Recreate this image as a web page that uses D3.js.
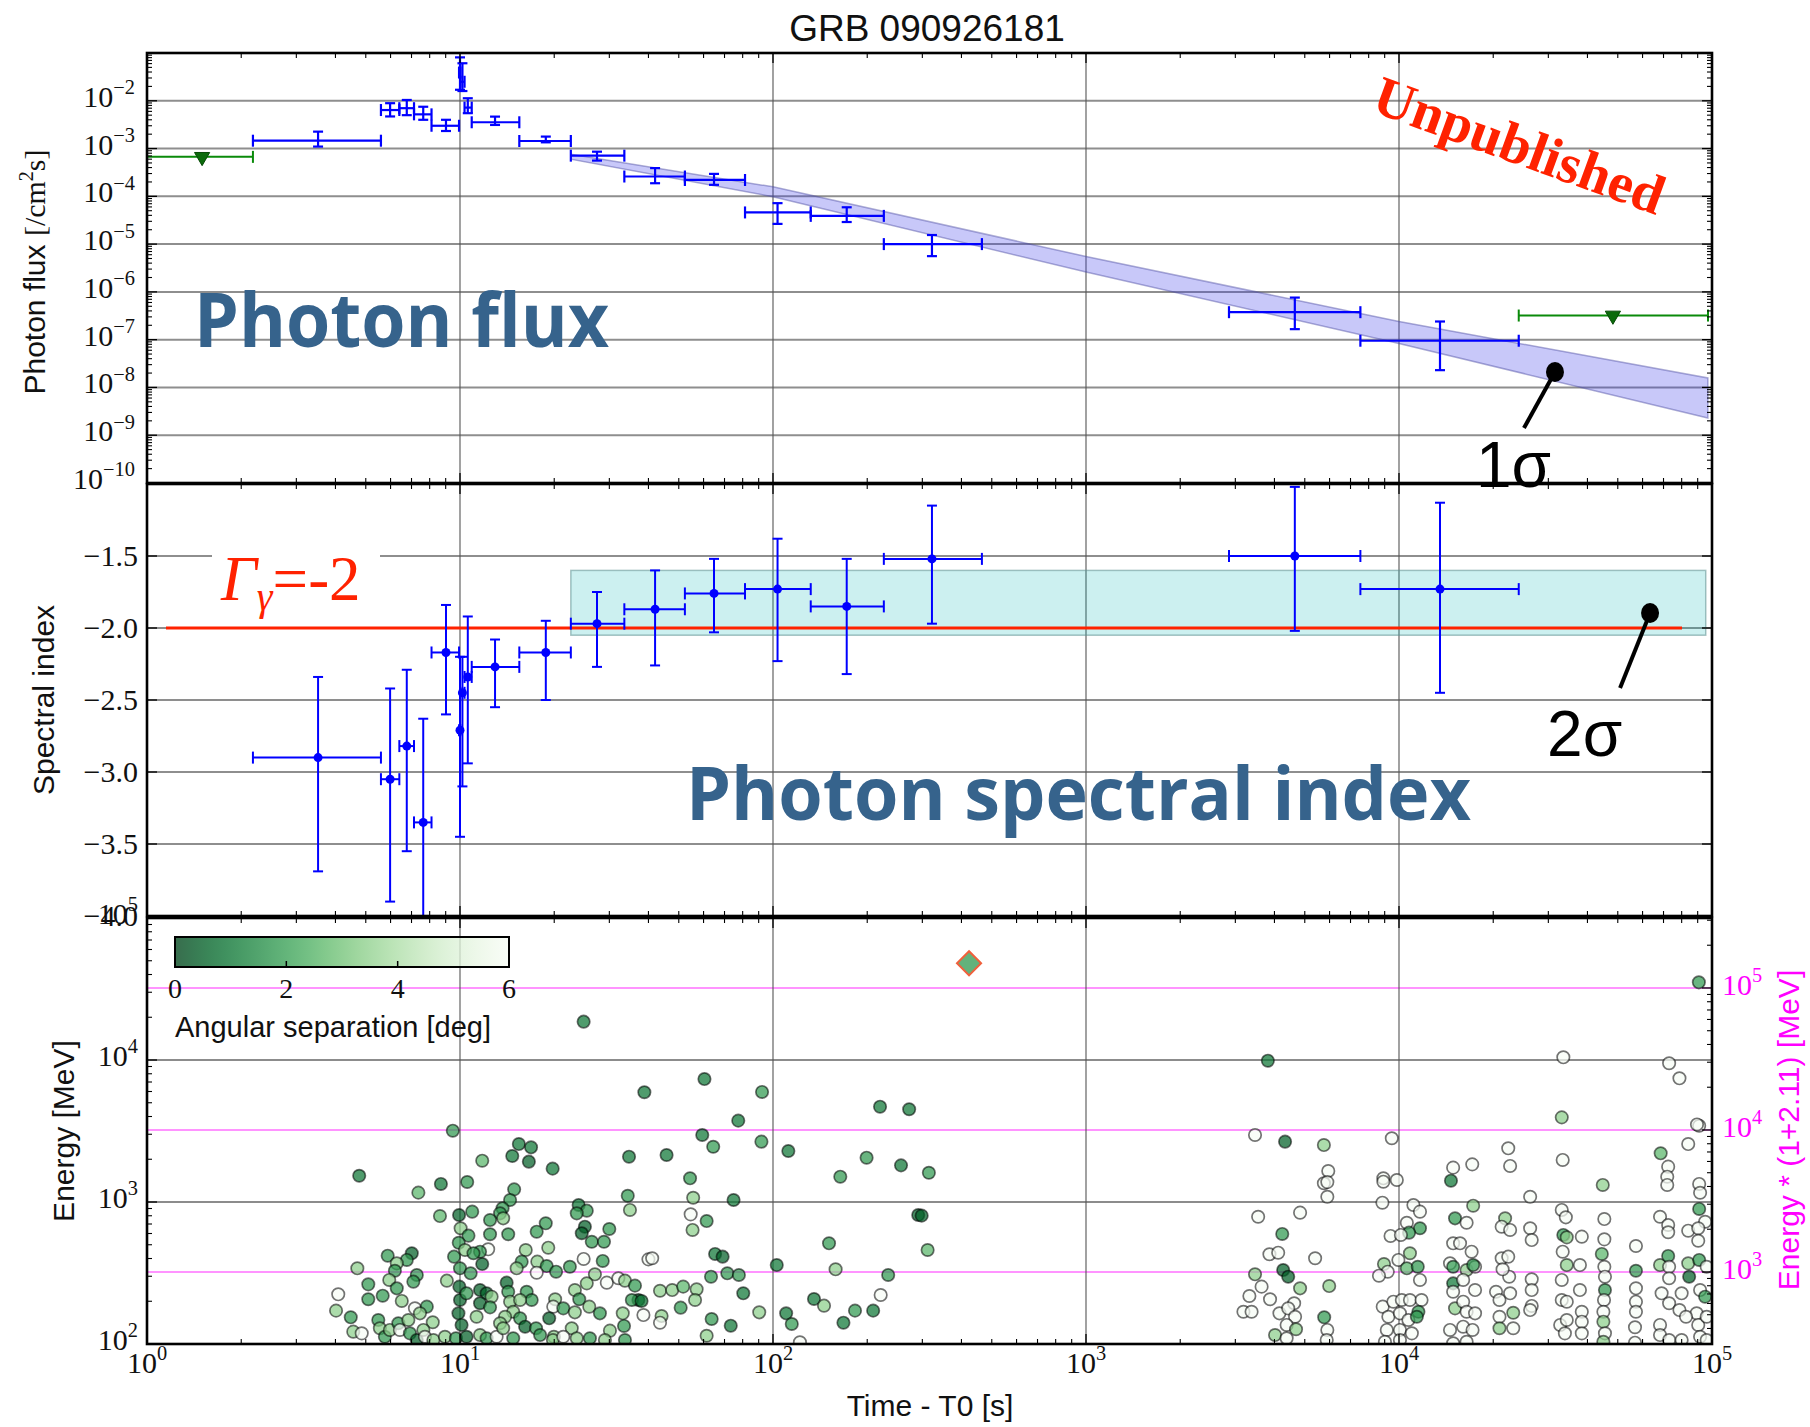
<!DOCTYPE html>
<html>
<head>
<meta charset="utf-8">
<title>GRB 090926181</title>
<script src="https://cdn.jsdelivr.net/npm/d3@7"></script>
<style>
  html, body { margin: 0; padding: 0; background: #fff; }
  svg { display: block; }
</style>
</head>
<body>
<svg id="chart" width="1810" height="1427"></svg>
<script>
// ---------------- LAT light-curve data ----------------
// time bins [s since T0]
const binStart = [2.18, 5.59, 6.40, 7.13, 8.11, 9.93, 10.03, 10.34, 10.90, 15.47, 22.6, 33.5, 52.3, 81.4, 132, 226, 2863, 7527];
const binEnd   = [5.59, 6.40, 7.13, 8.11, 9.93, 10.03, 10.34, 10.90, 15.47, 22.6, 33.5, 52.3, 81.4, 132, 226, 465, 7527, 24130];
const binMid   = [3.52, 5.98, 6.76, 7.63, 9.02, 10.0, 10.18, 10.59, 12.94, 18.8, 27.4, 42.0, 64.8, 103.4, 172, 322, 4647, 13520];

// photon flux [/cm^2 s] with 1-sigma range
const fluxValue = [1.46e-3, 6.4e-3, 7.0e-3, 5.2e-3, 3.0e-3, 3.9e-2, 2.5e-2, 7.2e-3, 3.55e-3, 1.44e-3, 7.1e-4, 2.6e-4, 2.2e-4, 4.6e-5, 3.9e-5, 1.0e-5, 3.76e-7, 9.5e-8];
const fluxLow   = [1.10e-3, 4.7e-3, 5.0e-3, 4.0e-3, 2.33e-3, 1.7e-2, 1.6e-2, 5.5e-3, 3.12e-3, 1.35e-3, 5.6e-4, 1.88e-4, 1.74e-4, 2.65e-5, 2.9e-5, 5.6e-6, 1.66e-7, 2.3e-8];
const fluxHigh  = [2.26e-3, 8.9e-3, 1.04e-2, 7.5e-3, 4.0e-3, 8.1e-2, 6.1e-2, 1.13e-2, 4.66e-3, 1.78e-3, 8.6e-4, 3.9e-4, 2.95e-4, 7.2e-5, 5.9e-5, 1.55e-5, 7.6e-7, 2.4e-7];

// photon spectral index with 1-sigma range
const indexValue = [-2.90, -3.05, -2.82, -3.35, -2.17, -2.71, -2.45, -2.34, -2.27, -2.17, -1.97, -1.87, -1.76, -1.73, -1.85, -1.52, -1.50, -1.73];
const indexLow   = [-3.69, -3.90, -3.55, -4.15, -2.60, -3.45, -3.10, -2.94, -2.55, -2.50, -2.27, -2.26, -2.03, -2.23, -2.32, -1.97, -2.02, -2.45];
const indexHigh  = [-2.34, -2.42, -2.29, -2.63, -1.84, -2.20, -2.20, -1.92, -2.08, -1.95, -1.75, -1.60, -1.52, -1.38, -1.52, -1.15, -1.02, -1.13];

// flux upper limits
const ulStart = [1.0, 24130];
const ulEnd   = [2.18, 97100];
const ulMid   = [1.5, 48240];
const ulFlux  = [6.7e-4, 3.2e-7];

// power-law decay fit, 1-sigma envelope
const decayTime  = [22.6, 100, 1000, 1e4, 97000];
const decayUpper = [7.6e-4, 1.58e-4, 5.5e-6, 2.4e-7, 1.58e-8];
const decayLower = [6.0e-4, 9.8e-5, 2.6e-6, 8.3e-8, 2.3e-9];

// constant spectral index, 2-sigma band, and reference index
const indexBandTime  = [22.6, 95500];
const indexBandRange = [-2.05, -1.60];
const refIndex = -2;
const refIndexTime = [1.15, 80200];

// individual photons: log10(time [s]), log10(energy [MeV]), angular separation [deg]
const photonLogT = [
  1.589,0.977,0.678,1.071,1.188,1.227,1.167,1.220,1.296,1.540,
  1.536,1.543,0.867,0.939,1.023,1.173,1.160,1.136,1.128,1.138,
  1.379,1.405,1.373,0.936,0.997,1.039,1.096,1.002,1.027,1.096,
  1.154,1.274,1.245,1.399,1.389,1.421,1.477,1.460,0.996,1.016,
  1.090,1.064,1.043,1.210,1.282,1.395,1.456,0.769,0.846,0.830,
  0.798,0.792,0.672,0.862,0.851,0.981,1.000,1.071,1.034,1.197,
  1.181,1.247,1.277,1.307,1.351,1.431,1.245,0.958,0.707,0.774,
  0.798,0.707,0.753,0.611,0.604,0.651,0.814,0.856,0.894,0.872,
  0.913,0.998,1.000,0.995,1.021,1.005,1.064,1.085,1.101,1.064,
  1.096,1.053,1.149,1.154,1.160,1.213,1.229,1.192,1.170,1.144,
  1.128,1.192,1.208,1.243,1.304,1.298,1.330,1.285,1.300,1.367,
  1.381,1.405,1.413,1.367,1.357,1.447,1.469,1.506,1.527,1.559,
  1.570,1.549,1.520,1.586,1.524,1.479,1.602,0.659,0.686,0.739,
  0.744,0.760,0.776,0.803,0.808,0.835,0.840,0.862,0.883,0.888,
  0.915,0.952,0.987,1.021,1.064,1.085,1.117,1.138,1.170,1.256,
  1.297,1.330,1.373,1.415,1.463,1.527,1.395,1.781,1.965,1.889,
  1.774,1.809,1.963,1.660,2.049,1.735,1.745,1.874,1.737,1.788,
  1.743,1.614,1.815,1.839,1.802,1.854,1.891,2.012,1.639,1.678,
  1.713,1.756,1.751,1.580,1.705,1.905,1.644,1.639,1.804,1.865,
  1.788,1.956,2.042,2.060,2.086,2.342,2.435,2.299,2.409,2.498,
  2.215,2.464,2.475,2.494,2.179,2.200,2.368,2.344,2.131,2.163,
  2.262,2.320,2.225,3.581,3.540,3.636,3.760,3.977,3.774,3.760,
  3.771,3.771,3.950,3.950,3.993,3.947,3.550,3.684,3.627,3.586,
  3.614,3.732,3.540,3.630,3.646,3.684,3.777,3.561,3.522,3.588,
  3.503,3.529,3.618,3.665,3.646,3.668,3.641,3.671,3.604,3.641,
  3.761,3.771,3.769,4.046,4.067,4.025,4.067,4.032,3.973,4.006,
  3.952,3.964,3.936,3.998,4.035,4.025,4.060,4.067,3.948,3.982,
  4.009,4.035,4.072,3.966,4.003,4.030,4.062,4.057,3.961,4.003,
  4.041,3.955,4.003,4.173,4.234,4.166,4.179,4.216,4.237,4.173,
  4.195,4.232,4.163,4.173,4.216,4.243,4.173,4.205,4.243,4.173,
  4.179,4.205,4.216,4.243,4.163,4.205,4.235,4.173,4.216,4.525,
  4.863,4.896,4.520,4.959,4.952,4.924,4.836,4.349,4.355,4.523,
  4.860,4.857,4.857,4.651,4.959,4.962,4.419,4.520,4.533,4.656,
  4.834,4.860,4.860,4.959,4.978,4.924,4.956,4.956,4.339,4.328,
  4.355,4.419,4.424,4.525,4.536,4.584,4.656,4.757,4.237,4.328,
  4.349,4.352,4.331,4.523,4.536,4.520,4.578,4.648,4.656,4.658,
  4.757,4.834,4.860,4.863,4.863,4.924,4.959,4.927,4.983,4.310,
  4.321,4.355,4.424,4.424,4.424,4.419,4.520,4.536,4.578,4.658,
  4.655,4.653,4.757,4.757,4.757,4.839,4.863,4.903,4.896,4.962,
  4.978,4.321,4.365,4.321,4.365,4.515,4.536,4.530,4.584,4.584,
  4.584,4.653,4.658,4.653,4.754,4.754,4.834,4.834,4.863,4.903,
  4.951,4.956,4.983,4.962,4.983,4.917,4.958
];
const photonLogE = [
  3.773,3.502,3.185,3.291,3.408,3.385,3.324,3.284,3.235,3.319,
  3.044,2.944,3.066,3.127,3.141,3.089,3.014,2.956,2.920,2.885,
  2.979,2.939,2.920,2.901,2.908,2.932,2.873,2.815,2.763,2.773,
  2.773,2.850,2.791,2.826,2.780,2.720,2.810,2.720,2.713,2.662,
  2.667,2.650,2.639,2.662,2.678,2.599,2.585,2.622,2.639,2.592,
  2.568,2.516,2.533,2.486,2.439,2.615,2.533,2.563,2.498,2.580,
  2.533,2.580,2.549,2.509,2.544,2.491,2.502,2.446,2.420,2.451,
  2.392,2.315,2.340,2.350,2.235,2.188,2.303,2.251,2.263,2.216,
  2.153,2.404,2.310,2.216,2.357,2.134,2.380,2.357,2.333,2.287,
  2.258,2.192,2.432,2.368,2.298,2.368,2.310,2.310,2.227,2.192,
  2.146,2.181,2.122,2.111,2.315,2.263,2.251,2.181,2.051,2.380,
  2.315,2.427,2.263,2.223,2.111,2.216,2.432,2.463,2.446,2.411,
  2.310,2.310,2.216,2.204,2.127,2.094,2.596,2.087,2.075,2.169,
  2.111,2.051,2.099,2.146,2.099,2.169,2.075,2.028,2.099,2.051,
  2.028,2.051,2.040,2.051,2.063,2.040,2.051,2.111,2.040,2.063,
  2.028,2.051,2.040,2.040,2.028,2.028,4.270,3.866,3.775,3.573,
  3.472,3.389,3.425,3.331,3.359,3.167,3.030,3.014,2.913,2.866,
  2.803,2.604,2.634,2.615,2.474,2.498,2.486,2.556,2.375,2.380,
  2.404,2.385,2.310,2.303,2.256,2.357,2.197,2.150,2.176,2.129,
  2.058,2.223,2.216,2.141,2.012,3.671,3.653,3.312,3.258,3.206,
  3.178,2.908,2.904,2.662,2.709,2.526,2.486,2.345,2.317,2.270,
  2.235,2.235,2.150,3.995,3.472,3.425,3.401,3.449,3.218,3.132,
  3.140,3.037,3.167,3.143,3.155,2.995,2.896,2.925,2.775,2.632,
  2.643,2.604,2.491,2.521,2.474,2.392,2.408,2.404,2.338,2.315,
  2.227,2.227,2.216,2.287,2.251,2.192,2.134,2.104,2.063,2.040,
  2.188,2.099,2.028,2.979,2.932,2.854,2.815,2.784,2.761,2.768,
  2.563,2.509,2.481,2.592,2.639,2.533,2.544,2.451,2.263,2.298,
  2.310,2.310,2.310,2.192,2.216,2.169,2.227,2.192,2.099,2.099,
  2.075,2.016,2.028,3.242,3.265,3.150,2.885,2.854,2.974,2.709,
  2.709,2.650,2.568,2.544,2.521,2.544,2.427,2.451,2.380,2.368,
  2.251,2.298,2.227,2.216,2.099,2.122,2.099,2.005,2.016,4.019,
  3.977,3.871,3.596,3.537,3.546,3.408,3.343,3.378,3.254,3.296,
  3.249,3.178,3.120,3.120,3.127,3.065,3.037,2.944,2.892,2.880,
  2.896,2.838,2.787,2.951,2.861,2.798,2.815,2.727,2.885,2.826,
  2.803,2.815,2.732,2.768,2.751,2.756,2.737,2.690,2.556,2.604,
  2.615,2.474,2.526,2.650,2.556,2.451,2.556,2.634,2.544,2.474,
  2.516,2.556,2.620,2.544,2.463,2.568,2.592,2.474,2.544,2.368,
  2.310,2.357,2.456,2.380,2.268,2.239,2.310,2.298,2.380,2.380,
  2.310,2.227,2.392,2.298,2.227,2.357,2.287,2.357,2.239,2.380,
  2.333,2.192,2.220,2.111,2.111,2.134,2.169,2.075,2.227,2.157,
  2.075,2.157,2.075,2.016,2.118,2.009,2.134,2.063,2.028,2.028,
  2.216,2.134,2.192,2.051,2.028,2.192,4.547
];
const photonSep = [
  1.0,1.8,1.0,2.6,1.0,1.0,1.0,0.5,1.0,1.0,
  1.8,3.4,2.6,1.0,1.8,1.8,1.8,1.8,1.8,3.4,
  1.0,1.8,1.8,2.6,0.5,1.8,1.8,3.4,1.8,1.8,
  1.8,1.8,1.8,0.5,0.5,1.8,1.8,1.8,1.8,3.4,
  6,1.8,1.8,3.4,3.4,6,1.8,1.8,0.5,1.8,
  3.4,1.8,3.4,1.8,1.8,1.8,1.8,0.5,1.8,1.8,
  3.4,3.4,1.8,1.8,1.8,3.4,6,3.4,1.8,3.4,
  1.8,1.8,1.8,6,3.4,1.8,3.4,6,1.8,3.4,
  3.4,0.5,0.5,0.5,1.8,0.5,0.5,0.5,3.4,0.5,
  1.8,3.4,0.5,1.8,3.4,1.8,1.8,3.4,3.4,3.4,
  3.4,1.8,0.5,1.8,3.4,6,1.8,0.5,3.4,3.4,
  1.8,3.4,3.4,3.4,3.4,1.8,6,6,3.4,1.8,
  0.5,1.8,3.4,6,1.8,3.4,6,3.4,6,1.8,
  3.4,1.8,3.4,1.8,6,3.4,1.8,0.5,3.4,6,
  3.4,3.4,1.8,0.5,3.4,1.8,6,3.4,1.8,1.8,
  3.4,6,3.4,1.8,3.4,1.8,1.0,1.0,1.8,1.0,
  1.0,1.8,1.8,1.0,1.0,1.8,3.4,1.0,6,1.8,
  3.4,6,1.0,0.5,1.8,1.8,1.8,1.0,3.4,3.4,
  2.6,3.4,3.4,1.0,1.8,1.0,3.4,6,1.8,1.0,
  3.4,3.4,1.0,1.8,6,1.0,1.0,1.8,1.0,1.8,
  1.8,0.5,0.5,2.6,1.8,3.4,1.8,6,1.0,3.4,
  1.8,1.0,1.0,1.0,6,0.5,3.4,6,6,6,
  6,6,6,6,6,6,6,6,1.8,6,
  6,6,3.4,0.5,0.5,3.4,3.4,6,6,6,
  6,6,6,6,6,6,6,3.4,3.4,6,
  1.8,6,6,6,6,6,1.8,1.8,6,6,
  3.4,6,6,6,3.4,2.6,1.8,6,6,6,
  6,6,6,6,6,6,1.8,1.8,6,6,
  6,6,6,6,6,1.0,1.8,6,3.4,6,
  6,6,6,1.8,3.4,6,1.0,6,6,6,
  3.4,6,6,6,6,6,6,6,6,6,
  6,6,3.4,6,6,6,2.6,6,6,6,
  6,6,6,3.4,6,6,6,6,6,6,
  6,6,6,1.8,6,6,6,6,3.4,6,
  6,6,6,1.8,3.4,6,6,6,1.8,6,
  6,6,6,6,3.4,6,6,2.6,6,6,
  1.8,3.4,1.8,6,6,3.4,1.8,0.5,6,6,
  6,6,6,6,6,6,6,6,6,1.8,
  6,6,6,6,6,6,6,6,6,6,
  1.8,6,3.4,3.4,6,6,6,6,6,6,
  6,3.4,6,3.4,6,6,6,6,6,6,
  6,6,6,6,6,6,1.8
];

// highest-energy photon (diamond)
const hePhotonTime = 423;
const hePhotonEnergy = 4.8e4;
const hePhotonSep = 1.8;

// redshift factor for the right-hand energy axis
const redshift = 2.11;

// annotation anchors (data units)
const sigma1Anchor = { t: 31500, flux: 2.1e-8 };
const sigma2Anchor = { t: 63400, index: -1.896 };

// tick label exponents
const fluxTickExp = [-10, -9, -8, -7, -6, -5, -4, -3, -2];
const indexTicks = [-4.0, -3.5, -3.0, -2.5, -2.0, -1.5];
const timeTickExp = [0, 1, 2, 3, 4, 5];
const energyTickExp = [2, 3, 4, 5];
const energyZTickExp = [3, 4, 5];
const sepTicks = [0, 2, 4, 6];

// ---------------- layout ----------------
const SANS = "'Liberation Sans', Arial, Helvetica, sans-serif";
const SERIF = "'Liberation Serif', 'Times New Roman', serif";
const BOLD_SANS = "'Open Sans', 'Noto Sans', sans-serif";
const RED = "#ff2200";
const BLUE = "#0000ff";
const MAGENTA = "#ff00ff";
const TEXTBLUE = "#36638c";

const X0 = 147, X1 = 1712;
const P_FLUX = [53, 483], P_INDEX = [484, 916], P_ENERGY = [918, 1344];

const svg = d3.select("#chart");

const x = d3.scaleLog().domain([1, 1e5]).range([X0, X1]);
const yFlux = d3.scaleLog().domain([1e-10, 1e-1]).range([P_FLUX[1], P_FLUX[0]]);
const yIndex = d3.scaleLinear().domain([-4, -1]).range([P_INDEX[1], P_INDEX[0]]);
const yEnergy = d3.scaleLog().domain([1e2, 1e5]).range([P_ENERGY[1], P_ENERGY[0]]);
const yEnergyZ = d3.scaleLog().domain([1e2 * (1 + redshift), 1e5 * (1 + redshift)]).range([P_ENERGY[1], P_ENERGY[0]]);
const sepColor = d3.scaleSequential(t => d3.interpolateGreens(1 - t)).domain([0, 6]).clamp(true);

// clip paths for the three panels
const defs = svg.append("defs");
[["clipFlux", P_FLUX], ["clipIndex", P_INDEX], ["clipEnergy", P_ENERGY]].forEach(([id, p]) => {
  defs.append("clipPath").attr("id", id)
    .append("rect").attr("x", X0).attr("y", p[0]).attr("width", X1 - X0).attr("height", p[1] - p[0]);
});

function logTicks(lo, hi) {
  const major = [], minor = [];
  for (let e = Math.floor(Math.log10(lo)) - 1; e <= Math.ceil(Math.log10(hi)); e++) {
    const b = Math.pow(10, e);
    if (b >= lo * 0.999 && b <= hi * 1.001) major.push(b);
    for (let k = 2; k < 10; k++) {
      const v = k * b;
      if (v > lo * 1.001 && v < hi * 0.999) minor.push(v);
    }
  }
  return { major, minor };
}

function seg(g, x1, y1, x2, y2, stroke, width) {
  return g.append("line").attr("x1", x1).attr("y1", y1).attr("x2", x2).attr("y2", y2)
    .attr("stroke", stroke).attr("stroke-width", width);
}

function powLabel(g, px, py, exp, anchor, fill, size) {
  const fs = size || 30;
  const t = g.append("text").attr("x", px).attr("y", py).attr("text-anchor", anchor)
    .attr("font-family", SERIF).attr("font-size", fs).attr("fill", fill || "#111");
  t.append("tspan").text("10");
  t.append("tspan").attr("dy", -fs * 0.42).attr("font-size", fs * 0.68)
    .text(exp < 0 ? "\u2212" + (-exp) : String(exp));
  return t;
}

const xt = logTicks(1, 1e5);

// ---------------- gridlines ----------------
const grid = svg.append("g");
function verticalGrid(p) {
  [10, 100, 1000, 1e4].forEach(v => seg(grid, x(v), p[0], x(v), p[1], "#555", 1.1));
}
// flux panel
d3.range(-9, -1).forEach(e => seg(grid, X0, yFlux(Math.pow(10, e)), X1, yFlux(Math.pow(10, e)), "#8e8e8e", 2));
verticalGrid(P_FLUX);
// index panel
[-3.5, -3.0, -2.5, -2.0, -1.5].forEach(v => seg(grid, X0, yIndex(v), X1, yIndex(v), "#8e8e8e", 2));
verticalGrid(P_INDEX);
// energy panel
[1e3, 1e4].forEach(v => seg(grid, X0, yEnergy(v), X1, yEnergy(v), "#666", 1.6));
[1e3, 1e4, 1e5].forEach(v => seg(grid, X0, yEnergyZ(v), X1, yEnergyZ(v), "#ff70ff", 1.6));
verticalGrid(P_ENERGY);

// ---------------- flux panel ----------------
const gF = svg.append("g").attr("clip-path", "url(#clipFlux)");

// decay fit envelope
const decayArea = d3.area()
  .x((d, i) => x(decayTime[i]))
  .y0((d, i) => yFlux(decayLower[i]))
  .y1((d, i) => yFlux(decayUpper[i]));
gF.append("path").datum(decayTime).attr("d", decayArea)
  .attr("fill", "#3a3ae8").attr("fill-opacity", 0.28)
  .attr("stroke", "#4a4aa0").attr("stroke-opacity", 0.45).attr("stroke-width", 1.5);

function errorCross(g, t0, t1, tm, yv, ylo, yhi, ys, color, w) {
  const xa = x(t0), xb = x(t1), xm = x(tm), yy = ys(yv);
  seg(g, xa, yy, xb, yy, color, w);
  seg(g, xa, yy - 6, xa, yy + 6, color, w);
  seg(g, xb, yy - 6, xb, yy + 6, color, w);
  seg(g, xm, ys(ylo), xm, ys(yhi), color, w);
  seg(g, xm - 5, ys(ylo), xm + 5, ys(ylo), color, w);
  seg(g, xm - 5, ys(yhi), xm + 5, ys(yhi), color, w);
}

binMid.forEach((tm, i) => {
  errorCross(gF, binStart[i], binEnd[i], tm, fluxValue[i], fluxLow[i], fluxHigh[i], yFlux, BLUE, 2.2);
});

// upper limits
ulMid.forEach((tm, i) => {
  const yy = yFlux(ulFlux[i]);
  seg(gF, x(ulStart[i]), yy, x(ulEnd[i]), yy, "#0a8a0a", 2);
  seg(gF, x(ulStart[i]), yy - 6, x(ulStart[i]), yy + 6, "#0a8a0a", 2);
  seg(gF, x(ulEnd[i]), yy - 6, x(ulEnd[i]), yy + 6, "#0a8a0a", 2);
  gF.append("path").attr("d", d3.symbol(d3.symbolTriangle, 100)())
    .attr("transform", `translate(${x(tm)},${yy}) rotate(180)`)
    .attr("fill", "#0b6b0b").attr("stroke", "#064a06").attr("stroke-width", 1);
});

// ---------------- index panel ----------------
const gI = svg.append("g").attr("clip-path", "url(#clipIndex)");
gI.append("rect")
  .attr("x", x(indexBandTime[0])).attr("width", x(indexBandTime[1]) - x(indexBandTime[0]))
  .attr("y", yIndex(indexBandRange[1])).attr("height", yIndex(indexBandRange[0]) - yIndex(indexBandRange[1]))
  .attr("fill", "#00b4b4").attr("fill-opacity", 0.2)
  .attr("stroke", "#5f8f8f").attr("stroke-opacity", 0.55).attr("stroke-width", 1.5);
seg(gI, x(refIndexTime[0]), yIndex(refIndex), x(refIndexTime[1]), yIndex(refIndex), RED, 3);

binMid.forEach((tm, i) => {
  errorCross(gI, binStart[i], binEnd[i], tm, indexValue[i], indexLow[i], indexHigh[i], yIndex, BLUE, 2);
  gI.append("circle").attr("cx", x(tm)).attr("cy", yIndex(indexValue[i])).attr("r", 4.5).attr("fill", BLUE);
});

// ---------------- energy panel ----------------
const gE = svg.append("g").attr("clip-path", "url(#clipEnergy)");
photonLogT.forEach((lt, i) => {
  gE.append("circle")
    .attr("cx", x(Math.pow(10, lt)))
    .attr("cy", yEnergy(Math.pow(10, photonLogE[i])))
    .attr("r", 6.2)
    .attr("fill", sepColor(photonSep[i])).attr("fill-opacity", 0.72)
    .attr("stroke", "#000").attr("stroke-opacity", 0.55).attr("stroke-width", 1.7);
});
gE.append("path").attr("d", d3.symbol(d3.symbolSquare, 290)())
  .attr("transform", `translate(${x(hePhotonTime)},${yEnergy(hePhotonEnergy)}) rotate(45)`)
  .attr("fill", sepColor(hePhotonSep)).attr("fill-opacity", 0.75)
  .attr("stroke", "#f0603c").attr("stroke-width", 2);

// colour bar
const cbX0 = 175, cbX1 = 509, cbY0 = 937, cbY1 = 967;
const sepScale = d3.scaleLinear().domain([0, 6]).range([cbX0, cbX1]);
const grad = defs.append("linearGradient").attr("id", "sepGrad").attr("x1", "0%").attr("x2", "100%");
d3.range(0, 1.0001, 0.05).forEach(f => {
  grad.append("stop").attr("offset", (f * 100) + "%").attr("stop-color", sepColor(f * 6));
});
svg.append("rect").attr("x", cbX0).attr("y", cbY0).attr("width", cbX1 - cbX0).attr("height", cbY1 - cbY0)
  .attr("fill", "url(#sepGrad)").attr("fill-opacity", 0.78);
svg.append("rect").attr("x", cbX0).attr("y", cbY0).attr("width", cbX1 - cbX0).attr("height", cbY1 - cbY0)
  .attr("fill", "none").attr("stroke", "#000").attr("stroke-width", 2);
sepTicks.forEach(v => {
  seg(svg, sepScale(v), cbY1, sepScale(v), cbY1 - 6, "#000", 1.5);
  svg.append("text").attr("x", sepScale(v)).attr("y", 998).attr("text-anchor", "middle")
    .attr("font-family", SERIF).attr("font-size", 28).attr("fill", "#111").text(v);
});
svg.append("text").attr("x", cbX0).attr("y", 1037).attr("font-family", SANS).attr("font-size", 29)
  .attr("fill", "#111").text("Angular separation [deg]");

// ---------------- frames and ticks ----------------
const axes = svg.append("g");
function frame(p) {
  axes.append("rect").attr("x", X0).attr("y", p[0]).attr("width", X1 - X0).attr("height", p[1] - p[0])
    .attr("fill", "none").attr("stroke", "#000").attr("stroke-width", 2.6);
  xt.major.forEach(v => { seg(axes, x(v), p[0], x(v), p[0] + 10, "#000", 1.3); seg(axes, x(v), p[1], x(v), p[1] - 10, "#000", 1.3); });
  xt.minor.forEach(v => { seg(axes, x(v), p[0], x(v), p[0] + 5, "#000", 1.1); seg(axes, x(v), p[1], x(v), p[1] - 5, "#000", 1.1); });
}
function yLogTicks(ys, lo, hi, left, right) {
  const t = logTicks(lo, hi);
  t.major.forEach(v => {
    if (left) seg(axes, X0, ys(v), X0 + 10, ys(v), "#000", 1.3);
    if (right) seg(axes, X1, ys(v), X1 - 10, ys(v), "#000", 1.3);
  });
  t.minor.forEach(v => {
    if (left) seg(axes, X0, ys(v), X0 + 5, ys(v), "#000", 1.1);
    if (right) seg(axes, X1, ys(v), X1 - 5, ys(v), "#000", 1.1);
  });
}
frame(P_FLUX); frame(P_INDEX); frame(P_ENERGY);
yLogTicks(yFlux, 1e-10, 1e-1, true, true);
d3.range(-4, -0.99, 0.5).forEach(v => {
  seg(axes, X0, yIndex(v), X0 + 10, yIndex(v), "#000", 1.3);
  seg(axes, X1, yIndex(v), X1 - 10, yIndex(v), "#000", 1.3);
});
yLogTicks(yEnergy, 1e2, 1e5, true, false);
yLogTicks(yEnergyZ, 1e2 * (1 + redshift), 1e5 * (1 + redshift), false, true);

// ---------------- tick labels ----------------
const labels = svg.append("g");
fluxTickExp.forEach(e => powLabel(labels, 135, yFlux(Math.pow(10, e)) + 6, e, "end"));
indexTicks.forEach(v => {
  labels.append("text").attr("x", 138).attr("y", yIndex(v) + 10).attr("text-anchor", "end")
    .attr("font-family", SERIF).attr("font-size", 30).attr("fill", "#111")
    .text("\u2212" + Math.abs(v).toFixed(1));
});
energyTickExp.forEach(e => powLabel(labels, 138, yEnergy(Math.pow(10, e)) + 6, e, "end"));
energyZTickExp.forEach(e => powLabel(labels, 1722, yEnergyZ(Math.pow(10, e)) + 7, e, "start", MAGENTA));
timeTickExp.forEach(e => powLabel(labels, x(Math.pow(10, e)), 1373, e, "middle"));

// ---------------- axis titles ----------------
svg.append("text").attr("x", 927).attr("y", 41).attr("text-anchor", "middle")
  .attr("font-family", SANS).attr("font-size", 37).attr("fill", "#111").text("GRB 090926181");

const yl = svg.append("text").attr("transform", "translate(45,272) rotate(-90)")
  .attr("text-anchor", "middle").attr("font-size", 30).attr("fill", "#111");
yl.append("tspan").attr("font-family", SANS).text("Photon flux ");
yl.append("tspan").attr("font-family", SERIF).text("[/cm");
yl.append("tspan").attr("font-family", SERIF).attr("font-size", 20).attr("dy", -12).text("2");
yl.append("tspan").attr("font-family", SERIF).attr("dy", 12).text("s]");

svg.append("text").attr("transform", "translate(54,700) rotate(-90)").attr("text-anchor", "middle")
  .attr("font-family", SANS).attr("font-size", 30).attr("fill", "#111").text("Spectral index");
svg.append("text").attr("transform", "translate(74,1131) rotate(-90)").attr("text-anchor", "middle")
  .attr("font-family", SANS).attr("font-size", 30).attr("fill", "#111").text("Energy [MeV]");
svg.append("text").attr("transform", "translate(1799,1130) rotate(-90)").attr("text-anchor", "middle")
  .attr("font-family", SANS).attr("font-size", 30).attr("fill", MAGENTA).text("Energy * (1+2.11) [MeV]");
svg.append("text").attr("x", 930).attr("y", 1416).attr("text-anchor", "middle")
  .attr("font-family", SANS).attr("font-size", 30).attr("fill", "#111").text("Time - T0 [s]");

// ---------------- annotations ----------------
svg.append("text").attr("x", 194).attr("y", 347).attr("font-family", BOLD_SANS).attr("font-weight", 700)
  .attr("font-size", 75).attr("fill", TEXTBLUE)
  .attr("textLength", 415).attr("lengthAdjust", "spacingAndGlyphs").text("Photon flux");
svg.append("text").attr("x", 686).attr("y", 820).attr("font-family", BOLD_SANS).attr("font-weight", 700)
  .attr("font-size", 74).attr("fill", TEXTBLUE)
  .attr("textLength", 785).attr("lengthAdjust", "spacingAndGlyphs").text("Photon spectral index");

svg.append("text").attr("transform", "translate(1513,163) rotate(20)").attr("text-anchor", "middle")
  .attr("font-family", SERIF).attr("font-weight", 700).attr("font-size", 56).attr("fill", RED)
  .text("Unpublished");

// reference-index label with white backing
svg.append("rect").attr("x", 212).attr("y", 546).attr("width", 168).attr("height", 72).attr("fill", "#fff");
const gl = svg.append("text").attr("x", 221).attr("y", 600).attr("font-family", SERIF)
  .attr("font-size", 63).attr("fill", RED);
gl.append("tspan").attr("font-style", "italic").text("\u0393");
gl.append("tspan").attr("font-style", "italic").attr("font-size", 40).attr("dy", 10).text("\u03b3");
gl.append("tspan").attr("dy", -10).text("=-2");

// sigma pointers
function sigmaPointer(px, py, label) {
  seg(svg, px, py, px - 31, py + 56, "#000", 4);
  svg.append("ellipse").attr("cx", px).attr("cy", py).attr("rx", 9).attr("ry", 10).attr("fill", "#000");
  svg.append("text").attr("x", px - 79).attr("y", py + 115).attr("font-family", SANS)
    .attr("font-size", 64).attr("fill", "#000").text(label);
}
sigmaPointer(x(sigma1Anchor.t), yFlux(sigma1Anchor.flux), "1\u03c3");
(function () {
  const px = x(sigma2Anchor.t), py = yIndex(sigma2Anchor.index);
  seg(svg, px, py, px - 30, py + 75, "#000", 4);
  svg.append("ellipse").attr("cx", px).attr("cy", py).attr("rx", 9).attr("ry", 10).attr("fill", "#000");
  svg.append("text").attr("x", px - 103).attr("y", py + 143).attr("font-family", SANS)
    .attr("font-size", 64).attr("fill", "#000").text("2\u03c3");
})();
</script>
</body>
</html>
